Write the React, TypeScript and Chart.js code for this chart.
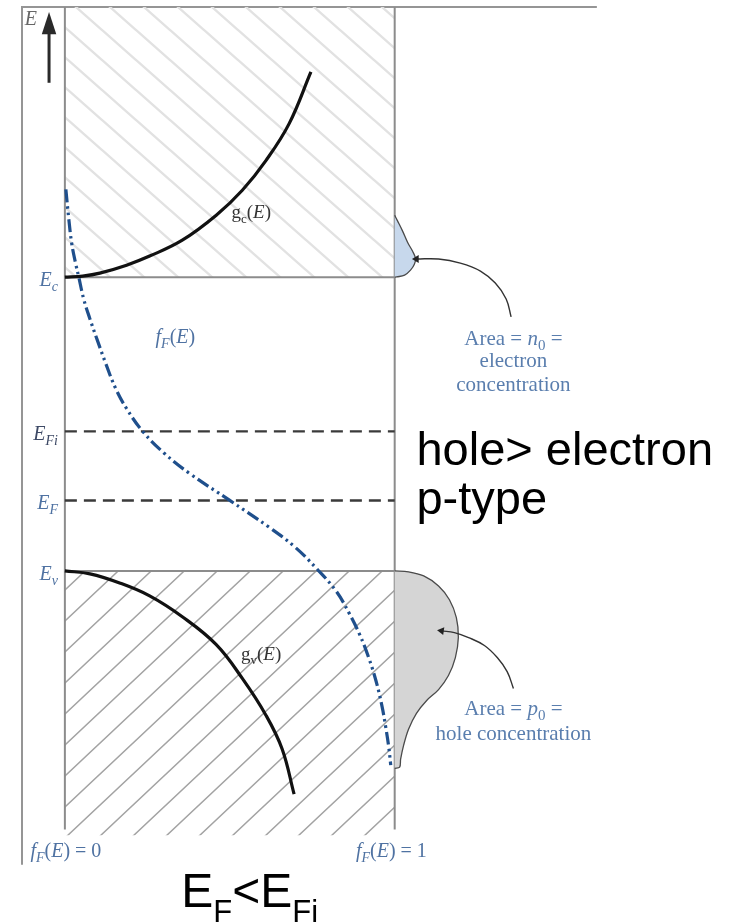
import { useEffect, useRef } from "react";
import { Chart, registerables } from "chart.js";

Chart.register(...registerables);

// Energy in units of the band gap (Ev = 0, Ec = 1); horizontal axis is fF(E) from 0 to 1.
const E_C = 1.0;
const E_V = 0.0;
const E_FI = 0.475;
const E_F = 0.24;
const E_TOP = 1.92;
const E_BAND_BOTTOM = -0.9;
const E_AXIS_BOTTOM = -0.88;
const E_FRAME_BOTTOM = -1.0;
const X_FRAME_LEFT = -0.13;
const X_FRAME_RIGHT = 1.613;

// Conduction-band density of states gc(E)
const gcValues = [0, 0.054, 0.106, 0.187, 0.257, 0.356, 0.459, 0.538, 0.61, 0.68, 0.746];
const gcEnergy = [1.0, 1.004, 1.014, 1.041, 1.072, 1.126, 1.211, 1.296, 1.398, 1.523, 1.699];

// Valence-band density of states gv(E)
const gvValues = [0, 0.076, 0.166, 0.257, 0.356, 0.459, 0.538, 0.61, 0.659, 0.695];
const gvEnergy = [0, -0.01, -0.041, -0.085, -0.156, -0.251, -0.366, -0.492, -0.607, -0.76];

// Fermi-Dirac probability fF(E)
const fermiValues = [
  0.003, 0.012, 0.021, 0.033, 0.042, 0.057, 0.076, 0.097, 0.124, 0.154, 0.187,
  0.236, 0.302, 0.378, 0.5, 0.619, 0.698, 0.764, 0.822, 0.861, 0.894, 0.921,
  0.943, 0.961, 0.973, 0.982, 0.988,
];
const fermiEnergy = [
  1.299, 1.197, 1.113, 1.045, 1.001, 0.926, 0.858, 0.79, 0.706, 0.621, 0.553,
  0.475, 0.4, 0.332, 0.24, 0.149, 0.081, 0.007, -0.068, -0.142, -0.217, -0.295,
  -0.373, -0.458, -0.533, -0.6, -0.661,
];

// Electron distribution n(E) drawn outward from the fF = 1 axis
const n0Width = [0, 0.009, 0.024, 0.039, 0.054, 0.063, 0.06, 0.048, 0.03, 0.006, 0];
const n0Energy = [1.211, 1.191, 1.157, 1.119, 1.089, 1.065, 1.045, 1.024, 1.007, 1.001, 1.0];

// Hole distribution p(E) drawn outward from the fF = 1 axis
const p0Width = [
  0, 0.042, 0.088, 0.133, 0.166, 0.187, 0.193, 0.184, 0.163, 0.133, 0.097,
  0.066, 0.042, 0.027, 0.018, 0.015, 0,
];
const p0Energy = [
  0, -0.003, -0.017, -0.051, -0.098, -0.159, -0.227, -0.295, -0.356, -0.404,
  -0.441, -0.485, -0.539, -0.594, -0.641, -0.668, -0.672,
];

// Leader curves from the annotations to the two areas
const n0LeaderX = [1.353, 1.338, 1.305, 1.26, 1.199, 1.133, 1.066];
const n0LeaderE = [0.865, 0.926, 0.98, 1.021, 1.048, 1.062, 1.062];
const p0LeaderX = [1.36, 1.341, 1.311, 1.272, 1.224, 1.181, 1.142];
const p0LeaderE = [-0.4, -0.343, -0.295, -0.254, -0.227, -0.21, -0.204];

// Energy-axis arrow at the top left
const energyArrowX = [-0.048, -0.048];
const energyArrowE = [1.662, 1.84];
const energyHeadX = [-0.048, -0.07, -0.026];
const energyHeadE = [1.903, 1.827, 1.827];

type Pt = { x: number; y: number };
const zip = (xs: number[], ys: number[]): Pt[] => xs.map((v, i) => ({ x: v, y: ys[i] }));
const offsetFromAxis = (ws: number[]) => ws.map((w) => 1 + w);

const SERIF = "'Liberation Serif', 'DejaVu Serif', serif";
const SANS = "'Liberation Sans', Arial, sans-serif";
const BLUE_TEXT = "#4f72a2";
const NOTE_TEXT = "#5a7eae";

type Run = { t: string; italic?: boolean; sub?: boolean; size?: number; drop?: number };
type Label = {
  runs: Run[];
  x: number;
  e: number;
  dy?: number;
  size: number;
  font: string;
  color: string;
  align: "left" | "center" | "right";
};

const levelLabel = (sub: string, e: number, color: string): Label => ({
  runs: [{ t: "E", italic: true }, { t: sub, italic: true, sub: true }],
  x: -0.021,
  e,
  dy: 9,
  size: 20,
  font: SERIF,
  color,
  align: "right",
});

const fermiRuns = (tail: string): Run[] => [
  { t: "f", italic: true },
  { t: "F", italic: true, sub: true },
  { t: "(" },
  { t: "E", italic: true },
  { t: ")" + tail },
];

const LABELS: Label[] = [
  { runs: [{ t: "E", italic: true }], x: -0.103, e: 1.86, size: 20, font: SERIF, color: "#666", align: "center" },
  levelLabel("c", E_C, BLUE_TEXT),
  levelLabel("Fi", E_FI, "#3e4a66"),
  levelLabel("F", E_F, BLUE_TEXT),
  levelLabel("v", E_V, BLUE_TEXT),
  {
    runs: [{ t: "g" }, { t: "c", sub: true }, { t: "(" }, { t: "E", italic: true }, { t: ")" }],
    x: 0.565, e: 1.201, size: 19, font: SERIF, color: "#333", align: "center",
  },
  {
    runs: [{ t: "g" }, { t: "v", sub: true }, { t: "(" }, { t: "E", italic: true }, { t: ")" }],
    x: 0.595, e: -0.302, size: 19, font: SERIF, color: "#333", align: "center",
  },
  { runs: fermiRuns(""), x: 0.335, e: 0.777, size: 20, font: SERIF, color: BLUE_TEXT, align: "center" },
  { runs: fermiRuns(" = 0"), x: 0.003, e: -0.974, size: 20, font: SERIF, color: BLUE_TEXT, align: "center" },
  { runs: fermiRuns(" = 1"), x: 0.99, e: -0.974, size: 20, font: SERIF, color: BLUE_TEXT, align: "center" },
  {
    runs: [{ t: "Area = " }, { t: "n", italic: true }, { t: "0", sub: true }, { t: " =" }],
    x: 1.36, e: 0.77, size: 21, font: SERIF, color: NOTE_TEXT, align: "center",
  },
  { runs: [{ t: "electron" }], x: 1.36, e: 0.695, size: 21, font: SERIF, color: NOTE_TEXT, align: "center" },
  { runs: [{ t: "concentration" }], x: 1.36, e: 0.611, size: 21, font: SERIF, color: NOTE_TEXT, align: "center" },
  {
    runs: [{ t: "Area = " }, { t: "p", italic: true }, { t: "0", sub: true }, { t: " =" }],
    x: 1.36, e: -0.492, size: 21, font: SERIF, color: NOTE_TEXT, align: "center",
  },
  { runs: [{ t: "hole concentration" }], x: 1.36, e: -0.577, size: 21, font: SERIF, color: NOTE_TEXT, align: "center" },
  { runs: [{ t: "hole> electron" }], x: 1.066, e: 0.36, size: 47, font: SANS, color: "#000", align: "left" },
  { runs: [{ t: "p-type" }], x: 1.066, e: 0.195, size: 47, font: SANS, color: "#000", align: "left" },
  {
    runs: [
      { t: "E" },
      { t: "F", sub: true, size: 31, drop: 15 },
      { t: "<E" },
      { t: "Fi", sub: true, size: 31, drop: 15 },
    ],
    x: 0.353, e: -1.143, size: 48, font: SANS, color: "#000", align: "left",
  },
];

function drawRuns(ctx: CanvasRenderingContext2D, lab: Label, px: number, py: number) {
  const fontOf = (r: Run) => {
    const s = r.size ?? (r.sub ? Math.round(lab.size * 0.7) : lab.size);
    return `${r.italic ? "italic " : ""}${s}px ${lab.font}`;
  };
  const widths = lab.runs.map((r) => {
    ctx.font = fontOf(r);
    return ctx.measureText(r.t).width;
  });
  const total = widths.reduce((a, b) => a + b, 0);
  let cx = lab.align === "left" ? px : lab.align === "center" ? px - total / 2 : px - total;
  ctx.fillStyle = lab.color;
  ctx.textBaseline = "alphabetic";
  ctx.textAlign = "left";
  lab.runs.forEach((r, i) => {
    ctx.font = fontOf(r);
    const drop = r.sub ? r.drop ?? lab.size * 0.24 : 0;
    ctx.fillText(r.t, cx, py + drop);
    cx += widths[i];
  });
}

const textPlugin = {
  id: "bandText",
  afterDatasetsDraw(chart: Chart) {
    const { ctx } = chart;
    const xs = chart.scales.x;
    const ys = chart.scales.y;
    ctx.save();
    for (const lab of LABELS) {
      drawRuns(ctx, lab, xs.getPixelForValue(lab.x), ys.getPixelForValue(lab.e) + (lab.dy ?? 0));
    }
    ctx.restore();
  },
};

function hatch(w: number, h: number, color: string, width: number, rising: boolean) {
  const tile = document.createElement("canvas");
  tile.width = w;
  tile.height = h;
  const g = tile.getContext("2d")!;
  g.strokeStyle = color;
  g.lineWidth = width;
  g.beginPath();
  if (rising) {
    for (const n of [0, 1, 2]) {
      g.moveTo(n * w + w, -h);
      g.lineTo(n * w - 2 * w, 2 * h);
    }
  } else {
    for (const n of [-1, 0, 1]) {
      g.moveTo(n * w - w, -h);
      g.lineTo(n * w + 2 * w, 2 * h);
    }
  }
  g.stroke();
  return g.createPattern(tile, "repeat")!;
}

export default function App() {
  const ref = useRef<HTMLCanvasElement>(null);

  useEffect(() => {
    const canvas = ref.current!;
    const ctx = canvas.getContext("2d")!;
    const conductionHatch = hatch(34, 30, "#e2e2e2", 2.4, false);
    const valenceHatch = hatch(33, 31, "#a3a3a3", 1.5, true);

    const plain = { showLine: true, pointRadius: 0, tension: 0, clip: false as const, fill: false };
    const smooth = { ...plain, tension: 0.4 };
    const lastPoint = (n: number, r: number) => (c: { dataIndex: number }) => (c.dataIndex === n - 1 ? r : 0);

    const chart = new Chart(ctx, {
      type: "scatter",
      data: {
        datasets: [
          {
            ...plain,
            data: zip(energyArrowX, energyArrowE),
            borderColor: "#2a2a2a",
            borderWidth: 3,
            order: 1,
          },
          {
            ...plain,
            data: zip(energyHeadX, energyHeadE),
            borderWidth: 0,
            borderColor: "#2a2a2a",
            backgroundColor: "#2a2a2a",
            fill: "shape",
            order: 1,
          },
          {
            ...smooth,
            data: zip(n0LeaderX, n0LeaderE),
            borderColor: "#333",
            borderWidth: 1.4,
            pointRadius: lastPoint(n0LeaderX.length, 4.5),
            pointStyle: "triangle",
            rotation: -90,
            pointBackgroundColor: "#222",
            pointBorderWidth: 0,
            order: 2,
          },
          {
            ...smooth,
            data: zip(p0LeaderX, p0LeaderE),
            borderColor: "#333",
            borderWidth: 1.4,
            pointRadius: lastPoint(p0LeaderX.length, 4.5),
            pointStyle: "triangle",
            rotation: -82,
            pointBackgroundColor: "#222",
            pointBorderWidth: 0,
            order: 2,
          },
          {
            ...smooth,
            data: zip(fermiValues, fermiEnergy),
            borderColor: "#1f4f8c",
            borderWidth: 3.2,
            borderDash: [13, 4, 2.5, 4, 2.5, 4],
            borderCapStyle: "butt",
            order: 3,
          },
          {
            ...smooth,
            data: zip(gcValues, gcEnergy),
            borderColor: "#111",
            borderWidth: 3.2,
            order: 4,
          },
          {
            ...smooth,
            data: zip(gvValues, gvEnergy),
            borderColor: "#111",
            borderWidth: 3.2,
            order: 4,
          },
          {
            ...plain,
            data: zip(offsetFromAxis(n0Width), n0Energy),
            tension: 0.35,
            borderColor: "#4a4a4a",
            borderWidth: 1.3,
            backgroundColor: "#c7d8ec",
            fill: "shape",
            order: 5,
          },
          {
            ...plain,
            data: zip(offsetFromAxis(p0Width), p0Energy),
            tension: 0.35,
            borderColor: "#4a4a4a",
            borderWidth: 1.3,
            backgroundColor: "#d5d5d5",
            fill: "shape",
            order: 5,
          },
          {
            ...plain,
            data: zip([0, 1.0], [E_FI, E_FI]),
            borderColor: "#3a3a3a",
            borderWidth: 2.4,
            borderDash: [12, 7],
            order: 6,
          },
          {
            ...plain,
            data: zip([0, 1.0], [E_F, E_F]),
            borderColor: "#3a3a3a",
            borderWidth: 2.4,
            borderDash: [12, 7],
            order: 6,
          },
          {
            ...plain,
            data: zip([0, 0], [E_TOP, E_AXIS_BOTTOM]),
            borderColor: "#8c8c8c",
            borderWidth: 2,
            order: 7,
          },
          {
            ...plain,
            data: zip([1, 1], [E_TOP, E_AXIS_BOTTOM]),
            borderColor: "#8c8c8c",
            borderWidth: 2,
            order: 7,
          },
          {
            ...plain,
            data: zip([0, 1], [E_C, E_C]),
            borderColor: "#8c8c8c",
            borderWidth: 2,
            backgroundColor: conductionHatch,
            fill: "end",
            order: 8,
          },
          {
            ...plain,
            data: zip([0, 1], [E_V, E_V]),
            borderColor: "#8c8c8c",
            borderWidth: 2,
            backgroundColor: valenceHatch,
            fill: { value: E_BAND_BOTTOM },
            order: 8,
          },
          {
            ...plain,
            data: zip([X_FRAME_RIGHT, X_FRAME_LEFT, X_FRAME_LEFT], [E_TOP, E_TOP, E_FRAME_BOTTOM]),
            borderColor: "#959595",
            borderWidth: 2,
            order: 9,
          },
        ],
      },
      options: {
        responsive: false,
        devicePixelRatio: 1,
        animation: false,
        events: [],
        layout: { padding: { left: 22, right: 2, top: 7, bottom: 1 } },
        scales: {
          x: { type: "linear", min: -0.13, max: 2.0, display: false },
          y: { type: "linear", min: -1.18, max: E_TOP, display: false },
        },
        plugins: {
          legend: { display: false },
          tooltip: { enabled: false },
          filler: { propagate: false },
        },
      },
      plugins: [textPlugin],
    } as any);

    return () => chart.destroy();
  }, []);

  return (
    <div style={{ position: "absolute", left: 0, top: 0, width: 729, height: 922, background: "#fff" }}>
      <canvas ref={ref} width={729} height={922} style={{ display: "block" }} />
    </div>
  );
}
